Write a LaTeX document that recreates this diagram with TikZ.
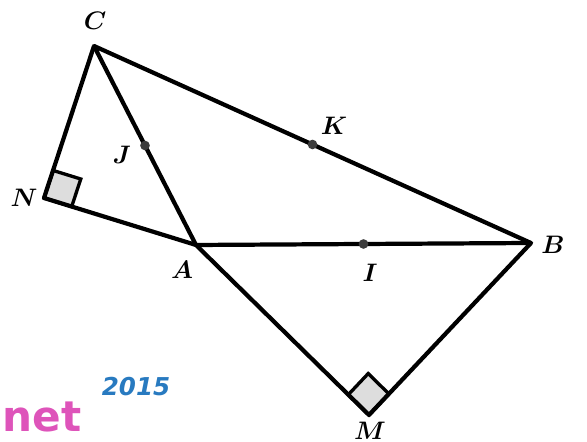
\documentclass[tikz,border=0pt]{standalone}
\usepackage{fontspec}
\usepackage{bm}
\usepackage{tikz}
\usetikzlibrary{calc}
\newfontfamily\wmfont{DejaVu Sans}
\definecolor{SquareGrey}{RGB}{221, 221, 221}
\definecolor{DotGrey}{RGB}{60, 60, 60}
\definecolor{MarkPink}{RGB}{222, 84, 186}
\definecolor{MarkBlue}{RGB}{40, 122, 192}
\tikzset{
  side/.style={line width=2.4pt, line join=round},
  rangle/.style={line width=1.9pt, fill=SquareGrey},
  ptlabel/.style={font=\Large, inner sep=1pt},
  middot/.style={circle, fill=DotGrey, inner sep=0pt, minimum size=5.5pt}
}

\begin{document}
\begin{tikzpicture}
    \useasboundingbox (0,0) rectangle (11.74,8.84);
    % points
    \coordinate (C) at (1.88,7.92);
    \coordinate (N) at (0.88,4.88);
    \coordinate (A) at (3.92,3.94);
    \coordinate (B) at (10.62,3.98);
    \coordinate (M) at (7.38,0.54);
    \coordinate (J) at ($(C)!0.5!(A)$);
    \coordinate (K) at ($(C)!0.5!(B)$);
    \coordinate (I) at ($(A)!0.5!(B)$);
    % right angles
    \coordinate (Nc) at ($(N)!0.58cm!(C)$);
    \coordinate (Na) at ($(N)!0.58cm!(A)$);
    \draw[rangle] (N) -- (Nc) -- ($(Nc)+(Na)-(N)$) -- (Na) -- cycle;
    \coordinate (Ma) at ($(M)!0.58cm!(A)$);
    \coordinate (Mb) at ($(M)!0.58cm!(B)$);
    \draw[rangle] (M) -- (Ma) -- ($(Ma)+(Mb)-(M)$) -- (Mb) -- cycle;
    % sides
    \draw[side] (C) -- (N) -- (A);
    \draw[side] (C) -- (A) -- (M) -- (B) -- cycle;
    \draw[side] (A) -- (B);
    % midpoints
    \node[middot] (dJ) at (J) {};
    \node[middot] (dK) at (K) {};
    \node[middot] (dI) at (I) {};
    % labels
    \node[ptlabel] (lC) at (1.90,8.42) {$\bm{C}$};
    \node[ptlabel] (lN) at (0.48,4.88) {$\bm{N}$};
    \node[ptlabel] (lA) at (3.64,3.44) {$\bm{A}$};
    \node[ptlabel] (lB) at (11.06,3.94) {$\bm{B}$};
    \node[ptlabel] (lM) at (7.40,0.22) {$\bm{M}$};
    \node[ptlabel] (lK) at (6.68,6.32) {$\bm{K}$};
    \node[ptlabel] (lJ) at (2.44,5.74) {$\bm{J}$};
    \node[ptlabel] (lI) at (7.40,3.38) {$\bm{I}$};
    % watermark
    \node[font=\wmfont\bfseries\fontsize{24}{24}\selectfont, text=MarkPink, inner sep=0pt] (wmNet) at (0.84,0.50) {net};
    \node[font=\wmfont\bfseries\itshape\fontsize{14}{14}\selectfont, text=MarkBlue, inner sep=0pt] (wmYear) at (2.72,1.10) {2015};
\end{tikzpicture}
\end{document}
